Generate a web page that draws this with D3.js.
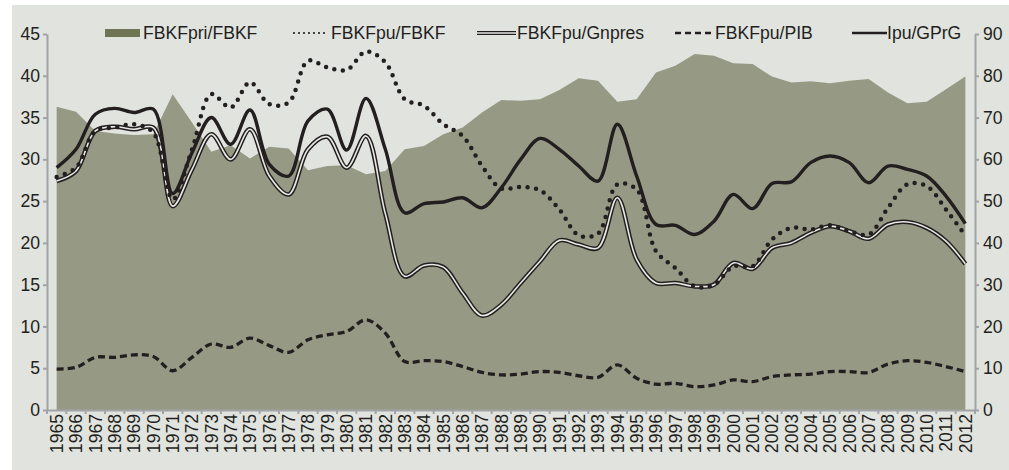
<!DOCTYPE html>
<html>
<head>
<meta charset="utf-8">
<script src="https://cdn.jsdelivr.net/npm/d3@7"></script>
<style>
body{margin:0;background:#fff}
svg{display:block;font-family:'Liberation Sans',Arial,sans-serif}
</style>
</head>
<body>
<svg id="graph" width="1009" height="470"></svg>
<script>
'use strict'

var years = ['1965','1966','1967','1968','1969','1970','1971','1972','1973','1974','1975','1976','1977','1978','1979','1980',
	'1981','1982','1983','1984','1985','1986','1987','1988','1989','1990','1991','1992','1993','1994','1995','1996',
	'1997','1998','1999','2000','2001','2002','2003','2004','2005','2006','2007','2008','2009','2010','2011','2012'];

// right axis (0-90)
var fbkfPri = [72.6,71.4,66.8,66.2,65.8,66.0,75.6,68.8,61.8,63.4,60.2,63.0,62.6,57.4,58.4,58.6,
	56.4,57.2,62.4,63.2,66.0,67.6,71.2,74.2,74.0,74.4,76.6,79.4,78.8,73.8,74.4,80.8,
	82.4,85.2,84.8,83.0,82.8,79.8,78.4,78.7,78.2,78.8,79.2,76.0,73.4,73.8,76.8,79.8];

// left axis (0-45)
var fbkfPuFbkf = [27.9,29.0,33.4,33.8,34.2,33.2,25.2,31.2,37.8,36.2,39.2,36.6,36.8,41.8,41.0,40.7,
	42.9,41.6,37.2,36.4,34.2,32.8,29.2,26.5,26.7,26.3,24.0,20.9,21.1,27.0,26.4,19.0,
	17.0,14.8,15.0,17.2,17.2,20.4,21.8,21.6,22.1,21.4,21.0,24.2,27.0,26.8,24.0,20.9];
var fbkfPuGnpres = [27.4,28.6,33.4,33.9,33.6,33.8,24.4,28.8,33.0,30.0,33.6,28.0,25.8,31.2,32.7,29.0,
	32.8,23.5,16.0,17.3,17.1,14.0,11.3,12.6,15.2,17.8,20.3,19.8,19.4,25.4,18.0,15.2,
	15.2,14.8,15.0,17.6,16.9,19.4,20.0,21.2,22.0,21.4,20.5,22.2,22.5,21.8,20.2,17.5];
var fbkfPuPib = [4.9,5.1,6.3,6.3,6.6,6.4,4.7,6.3,7.9,7.5,8.6,7.7,6.9,8.4,9.0,9.4,
	10.8,9.2,5.8,5.9,5.8,5.2,4.5,4.2,4.3,4.6,4.5,4.1,3.9,5.4,3.8,3.1,
	3.2,2.8,3.0,3.6,3.4,4.0,4.2,4.3,4.6,4.6,4.5,5.5,5.9,5.7,5.2,4.6];
var ipuGprg = [29.0,31.2,35.4,36.1,35.6,36.0,25.9,30.8,35.0,31.8,35.9,29.4,28.0,34.6,36.0,31.1,
	37.3,31.2,23.6,24.7,24.9,25.4,24.2,26.6,30.0,32.5,31.2,29.2,27.4,34.2,28.0,22.2,
	22.1,21.0,22.6,25.8,24.1,27.1,27.3,29.6,30.4,29.6,27.2,29.2,28.8,28.0,25.6,22.3];

var leftTicks = [0,5,10,15,20,25,30,35,40,45];
var rightTicks = [0,10,20,30,40,50,60,70,80,90];
var legendNames = ['FBKFpri/FBKF','FBKFpu/FBKF','FBKFpu/Gnpres','FBKFpu/PIB','Ipu/GPrG'];

var plotLeft = 47, plotRight = 975, plotTop = 34, plotBottom = 410;
var ink = '#231f20';
var axisColor = '#a2a3a6';
var fontSize = '17.6px';

var svg = d3.select('#graph');
svg.append('rect').attr('x',12).attr('y',5).attr('width',997).attr('height',465).attr('fill','#e1e3de');

var x = d3.scaleBand().domain(years).range([plotLeft, plotRight]);
var yLeft = d3.scaleLinear().domain([0,45]).range([plotBottom, plotTop]);
var yRight = d3.scaleLinear().domain([0,90]).range([plotBottom, plotTop]);
function cx(i){ return x(years[i]) + x.bandwidth()/2; }

// area
svg.append('path')
	.datum(fbkfPri)
	.attr('fill','#969a84')
	.attr('d', d3.area().x(function(d,i){return cx(i);}).y0(plotBottom).y1(function(d){return yRight(d);}));

var smooth = d3.curveCatmullRom.alpha(0.5);
function lineFor(arr){
	return d3.line().curve(smooth).x(function(d,i){return cx(i);}).y(function(d){return yLeft(d);})(arr);
}

// dashed
svg.append('path').attr('d', lineFor(fbkfPuPib)).attr('fill','none').attr('stroke',ink)
	.attr('stroke-width',3.3).attr('stroke-dasharray','7,4');
// double
svg.append('path').attr('d', lineFor(fbkfPuGnpres)).attr('fill','none').attr('stroke',ink).attr('stroke-width',4.6);
svg.append('path').attr('d', lineFor(fbkfPuGnpres)).attr('fill','none').attr('stroke','#e8e9e4').attr('stroke-width',1.6);
// dotted
svg.append('path').attr('d', lineFor(fbkfPuFbkf)).attr('fill','none').attr('stroke',ink)
	.attr('stroke-width',4.5).attr('stroke-linecap','round').attr('stroke-dasharray','0,8.6');
// solid
svg.append('path').attr('d', lineFor(ipuGprg)).attr('fill','none').attr('stroke',ink).attr('stroke-width',3.4);

// axes
var gl = svg.append('g').attr('transform','translate('+plotLeft+',0)')
	.call(d3.axisLeft(yLeft).tickValues(leftTicks).tickSize(4).tickSizeOuter(0).tickPadding(3));
var gr = svg.append('g').attr('transform','translate('+plotRight+',0)')
	.call(d3.axisRight(yRight).tickValues(rightTicks).tickSize(4).tickSizeOuter(0).tickPadding(4));
var gx = svg.append('g').attr('transform','translate(0,'+plotBottom+')')
	.call(d3.axisBottom(x).tickSize(0).tickSizeOuter(0));
gx.selectAll('text').attr('transform','rotate(-90)').attr('text-anchor','end')
	.attr('x',-4).attr('y',0).attr('dy','0.36em');
var edges = years.map(function(y){return x(y);}).concat([plotRight]);
gx.selectAll('.edge').data(edges).enter().append('line').attr('class','edge')
	.attr('x1',function(d){return d;}).attr('x2',function(d){return d;})
	.attr('y1',0).attr('y2',4).attr('stroke',axisColor).attr('stroke-width',2);

[gl,gr,gx].forEach(function(g){
	g.selectAll('.domain').attr('stroke',axisColor).attr('stroke-width',2);
	g.selectAll('.tick line').attr('stroke',axisColor).attr('stroke-width',2);
	g.selectAll('text').attr('fill',ink).style('font-size',fontSize).style('font-family',"'Liberation Sans',Arial,sans-serif");
});

// legend
var ly = 33;
var leg = svg.append('g');
leg.append('rect').attr('x',105).attr('y',ly-4).attr('width',35).attr('height',8).attr('fill','#6e7454');
leg.append('line').attr('x1',294).attr('x2',328).attr('y1',ly).attr('y2',ly).attr('stroke',ink)
	.attr('stroke-width',2.2).attr('stroke-linecap','round').attr('stroke-dasharray','0,5');
leg.append('line').attr('x1',477).attr('x2',516).attr('y1',ly).attr('y2',ly).attr('stroke',ink).attr('stroke-width',4);
leg.append('line').attr('x1',477).attr('x2',516).attr('y1',ly).attr('y2',ly).attr('stroke','#e8e9e4').attr('stroke-width',1.4);
leg.append('line').attr('x1',675).attr('x2',713).attr('y1',ly).attr('y2',ly).attr('stroke',ink)
	.attr('stroke-width',2.6).attr('stroke-dasharray','6,4');
leg.append('line').attr('x1',852).attr('x2',887).attr('y1',ly).attr('y2',ly).attr('stroke',ink).attr('stroke-width',2.6);
var legX = [143,331,517,715,887];
leg.selectAll('text').data(legendNames).enter().append('text')
	.attr('x',function(d,i){return legX[i];}).attr('y',ly).attr('dy','0.36em')
	.attr('fill',ink).style('font-size',fontSize).text(function(d){return d;});
</script>
</body>
</html>
